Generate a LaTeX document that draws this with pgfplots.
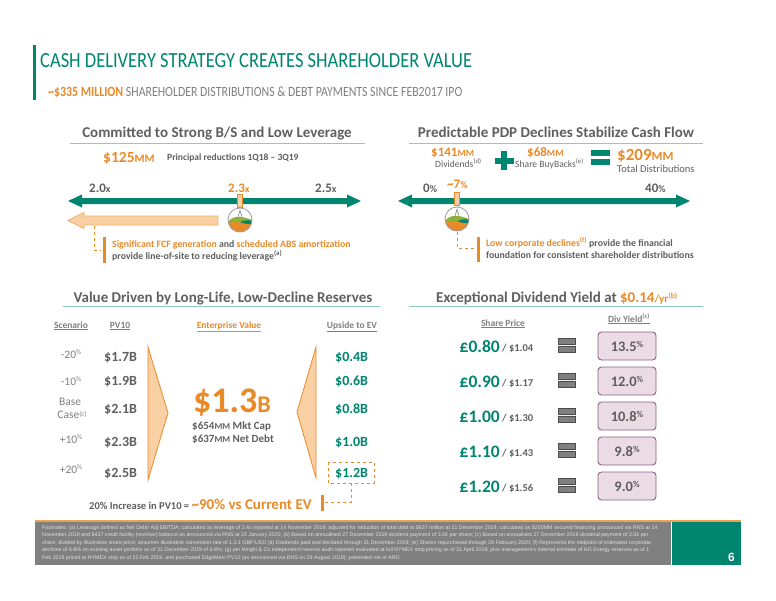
\documentclass[border=0pt]{standalone}
\usepackage{pgfplots}
\pgfplotsset{compat=1.18}
\usepackage{pgfplotstable}
\usepackage{fontspec}
\setmainfont{Carlito}
\newfontfamily\narrowfont[FakeStretch=0.84]{Carlito}
\newfontfamily\notefont{Liberation Sans}

\definecolor{brandteal}{RGB}{0,133,113}
\definecolor{brandorange}{RGB}{233,138,40}
\definecolor{txtgray}{RGB}{95,95,95}
\definecolor{subgray}{RGB}{128,128,128}
\definecolor{lightorange}{RGB}{249,208,164}
\definecolor{uline}{RGB}{140,202,196}
\definecolor{leafgreen}{RGB}{141,178,58}
\definecolor{yieldfill}{RGB}{235,219,229}
\definecolor{yieldborder}{RGB}{140,98,128}
\definecolor{footgray}{RGB}{128,128,128}

% scenario table: baseline (px from top), PV10 and upside to EV in $B
\pgfplotstableread{
y pv up
361 1.7 0.4
385 1.9 0.6
413 2.1 0.8
446 2.3 1.0
477 2.5 1.2
}\evdata

% share price (GBP, USD) and dividend yield in %
\pgfplotstableread{
y gbp usd yield
352 0.80 1.04 13.5
387 0.90 1.17 12.0
422 1.00 1.30 10.8
457 1.10 1.43 9.8
492 1.20 1.56 9.0
}\divdata

% marker positions on the two number lines
\pgfplotstableread{
x y
240 201
457 199
}\marks

\pgfdeclareplotmark{slot}{%
  \pgfpathrectangle{\pgfpoint{-2.5pt}{-6.5pt}}{\pgfpoint{5pt}{13pt}}%
  \pgfusepathqfillstroke}
\pgfdeclareplotmark{eqbars}{%
  \pgfpathrectangle{\pgfpoint{-8.5pt}{0.8pt}}{\pgfpoint{17pt}{6pt}}%
  \pgfpathrectangle{\pgfpoint{-8.5pt}{-6.8pt}}{\pgfpoint{17pt}{6pt}}%
  \pgfusepathqfillstroke}

\newcommand{\emblem}[2]{%
  \begin{scope}[shift={(axis cs:#1,#2)}]
    \fill[white] (0pt,0pt) circle[radius=12pt];
    \begin{scope}
      \clip (0pt,0pt) circle[radius=12pt];
      \fill[brandorange] (-12pt,-2pt) rectangle (12pt,-12pt);
      \fill[leafgreen] (-12pt,-2pt) .. controls (-7pt,5pt) and (2pt,4pt) .. (12pt,0pt) -- (12pt,-2pt) -- cycle;
      \fill[brandteal] (0pt,-2pt) .. controls (5pt,0pt) and (9pt,0pt) .. (12pt,-1pt) -- (12pt,-4pt) .. controls (6pt,-4pt) .. (0pt,-2pt);
    \end{scope}
    \draw[black!40, line width=0.8pt] (0pt,0pt) circle[radius=12pt];
    \draw[black!60, line width=0.4pt] (-2pt,3pt) -- (0pt,10pt) -- (2pt,3pt) (-1.5pt,6pt) -- (1.5pt,6pt);
  \end{scope}}

\begin{document}
\begin{tikzpicture}[every node/.append style={inner sep=0pt}]
\begin{axis}[
  width=776pt, height=600pt, scale only axis,
  xmin=0, xmax=776, ymin=0, ymax=600, y dir=reverse,
  hide axis, clip=false,
  /pgf/number format/assume math mode=true,
]
\fill[white] (axis cs:0,0) rectangle (axis cs:776,600);

% ---------- title block
\fill[brandteal] (33,45) rectangle (36,100);
\node[anchor=base west, text=brandteal] at (40,67)
  {\resizebox{432pt}{14pt}{\fontsize{20}{22}\selectfont CASH DELIVERY STRATEGY CREATES SHAREHOLDER VALUE}};
\node[anchor=base west, font=\narrowfont\fontsize{14.1}{17}\selectfont] at (48,96)
  {\textcolor{brandorange}{\bfseries\textasciitilde\$335 MILLION} \textcolor{subgray}{SHAREHOLDER DISTRIBUTIONS \& DEBT PAYMENTS SINCE FEB2017 IPO}};

% ---------- section headings
\node[anchor=base, text=txtgray, font=\bfseries\fontsize{15}{18}\selectfont] at (217,137) {Committed to Strong B/S and Low Leverage};
\draw[uline, line width=1pt] (70,143) -- (365,143);
\node[anchor=base, text=txtgray, font=\bfseries\fontsize{15}{18}\selectfont] at (556,137) {Predictable PDP Declines Stabilize Cash Flow};
\draw[uline, line width=1pt] (409,143) -- (703,143);
\node[anchor=base, text=txtgray, font=\bfseries\fontsize{15}{18}\selectfont] at (223,302) {Value Driven by Long-Life, Low-Decline Reserves};
\draw[uline, line width=1pt] (63,306) -- (380,306);
\node[anchor=base, text=txtgray, font=\bfseries\fontsize{15}{18}\selectfont] at (557,302)
  {Exceptional Dividend Yield at \textcolor{brandorange}{\$0.14\fontsize{11}{12}\selectfont/yr\textsuperscript{(b)}}};
\draw[uline, line width=1pt] (409,306) -- (703,306);

% ---------- leverage panel
\node[anchor=base west, text=brandorange, font=\bfseries\fontsize{15.5}{18}\selectfont] at (103,162) {\$125{\fontsize{11.5}{12}\selectfont MM}};
\node[anchor=base west, text=txtgray, font=\bfseries\fontsize{9.5}{11}\selectfont] at (167,160) {Principal reductions 1Q18 -- 3Q19};
\node[anchor=base west, text=txtgray, font=\bfseries\fontsize{13}{15}\selectfont] at (89,192) {2.0{\fontsize{10}{12}\selectfont x}};
\node[anchor=base west, text=brandorange, font=\bfseries\fontsize{13}{15}\selectfont] at (228,192) {2.3{\fontsize{10}{12}\selectfont x}};
\node[anchor=base west, text=txtgray, font=\bfseries\fontsize{13}{15}\selectfont] at (315,192) {2.5{\fontsize{10}{12}\selectfont x}};
\fill[brandteal] (68,201) -- (82,194.5) -- (82,198) -- (347,198) -- (347,194.5) -- (361,201) -- (347,207.5) -- (347,204) -- (82,204) -- (82,207.5) -- cycle;
\filldraw[fill=lightorange, draw=brandorange!70, line width=0.7pt] (68,220.5) -- (84,212.5) -- (84,216) -- (218,216) -- (218,225) -- (84,225) -- (84,228.5) -- cycle;
\emblem{240}{220}
\draw[brandorange, dashed, line width=0.8pt] (94,226) -- (94,250) -- (101,250);
\fill[brandorange] (103,237) rectangle (106,263);
\node[anchor=base west, font=\bfseries\fontsize{9.8}{12}\selectfont] at (112,247)
  {\textcolor{brandorange}{Significant FCF generation} \textcolor{txtgray}{and} \textcolor{brandorange}{scheduled ABS amortization}};
\node[anchor=base west, text=txtgray, font=\bfseries\fontsize{9.8}{12}\selectfont] at (112,259)
  {provide line-of-site to reducing leverage\textsuperscript{(a)}};

% ---------- distributions panel
\node[anchor=base west, text=brandorange, font=\bfseries\fontsize{13}{15}\selectfont] at (431,156) {\$141{\fontsize{9.5}{12}\selectfont MM}};
\node[anchor=base west, text=txtgray, font=\fontsize{9.6}{12}\selectfont] at (435,167.5) {Dividends\textsuperscript{(d)}};
\fill[brandteal] (501,151) rectangle (507,170);
\fill[brandteal] (494.5,157.5) rectangle (513.5,163.5);
\node[anchor=base west, text=brandorange, font=\bfseries\fontsize{13}{15}\selectfont] at (527,156) {\$68{\fontsize{9.5}{12}\selectfont MM}};
\node[anchor=base west, text=txtgray, font=\fontsize{9.6}{12}\selectfont] at (515,167.5) {Share BuyBacks\textsuperscript{(e)}};
\fill[brandteal] (591,150) rectangle (610,156);
\fill[brandteal] (591,159) rectangle (610,165);
\node[anchor=base west, text=brandorange, font=\bfseries\fontsize{17}{20}\selectfont] at (617,160) {\$209{\fontsize{12.5}{14}\selectfont MM}};
\node[anchor=base west, text=txtgray, font=\fontsize{10.5}{12}\selectfont] at (617,172) {Total Distributions};
\node[anchor=base west, text=txtgray, font=\bfseries\fontsize{13}{15}\selectfont] at (423,192) {0{\fontsize{10}{12}\selectfont\%}};
\node[anchor=base west, text=brandorange, font=\bfseries\fontsize{13}{15}\selectfont] at (447,188) {\textasciitilde7{\fontsize{10}{12}\selectfont\%}};
\node[anchor=base west, text=txtgray, font=\bfseries\fontsize{13}{15}\selectfont] at (645,192) {40{\fontsize{10}{12}\selectfont\%}};
\fill[brandteal] (398,201) -- (412,194.5) -- (412,198) -- (676,198) -- (676,194.5) -- (690,201) -- (676,207.5) -- (676,204) -- (412,204) -- (412,207.5) -- cycle;
\emblem{457}{219}
\draw[brandorange, dashed, line width=0.8pt] (457,232) -- (457,248) -- (474,248);
\fill[brandorange] (476.5,237) rectangle (479.5,262);
\node[anchor=base west, font=\bfseries\fontsize{9.8}{12}\selectfont] at (486,246)
  {\textcolor{brandorange}{Low corporate declines\textsuperscript{(f)}} \textcolor{txtgray}{provide the financial}};
\node[anchor=base west, text=txtgray, font=\bfseries\fontsize{9.8}{12}\selectfont] at (486,258)
  {foundation for consistent shareholder distributions};

\addplot[only marks, mark=slot, mark options={fill=lightorange, draw=brandorange, line width=0.6pt}] table[x=x, y=y] {\marks};

% ---------- reserves panel
\node[anchor=base, text=subgray, font=\bfseries\fontsize{9.5}{11}\selectfont] at (71,328) {\underline{Scenario}};
\node[anchor=base, text=subgray, font=\bfseries\fontsize{9.5}{11}\selectfont] at (120,328) {\underline{PV10}};
\node[anchor=base, text=brandorange, font=\bfseries\fontsize{9.5}{11}\selectfont] at (229,328) {\underline{Enterprise Value}};
\node[anchor=base, text=subgray, font=\bfseries\fontsize{9.5}{11}\selectfont] at (352,328) {\underline{Upside to EV}};
\begin{scope}[text=subgray, font=\fontsize{11.5}{13}\selectfont]
\node[anchor=base] at (71,358) {-20{\fontsize{7}{8}\selectfont\raisebox{4pt}{\%}}};
\node[anchor=base] at (71,385) {-10{\fontsize{7}{8}\selectfont\raisebox{4pt}{\%}}};
\node[anchor=base] at (70,405) {Base};
\node[anchor=base] at (72,418) {Case{\fontsize{7}{8}\selectfont\raisebox{2pt}{(c)}}};
\node[anchor=base] at (71,443) {+10{\fontsize{7}{8}\selectfont\raisebox{4pt}{\%}}};
\node[anchor=base] at (71,473) {+20{\fontsize{7}{8}\selectfont\raisebox{4pt}{\%}}};
\end{scope}
\filldraw[fill=lightorange, draw=brandorange, line width=0.8pt] (148,347) -- (168,413) -- (148,480) -- cycle;
\filldraw[fill=lightorange, draw=brandorange, line width=0.8pt] (316,347) -- (297,412) -- (316,478) -- cycle;

\addplot[only marks, mark=*, mark size=0pt, point meta=explicit,
  nodes near coords={\$\pgfmathprintnumber[fixed,fixed zerofill,precision=1]{\pgfplotspointmeta}B},
  nodes near coords style={anchor=base west, inner sep=0pt, text=txtgray, font=\bfseries\fontsize{14}{16}\selectfont}]
  table[x expr=104, y=y, meta=pv] {\evdata};
\addplot[only marks, mark=*, mark size=0pt, point meta=explicit,
  nodes near coords={\$\pgfmathprintnumber[fixed,fixed zerofill,precision=1]{\pgfplotspointmeta}B},
  nodes near coords style={anchor=base west, inner sep=0pt, text=brandteal, font=\bfseries\fontsize{14}{16}\selectfont}]
  table[x expr=335, y=y, meta=up] {\evdata};

\node[anchor=base, text=brandorange, font=\bfseries\fontsize{36}{40}\selectfont] at (232,412) {\$1.3{\fontsize{24}{26}\selectfont B}};
\node[anchor=base west, text=txtgray, font=\bfseries\fontsize{11}{13}\selectfont] at (192,429) {\$654{\fontsize{9}{11}\selectfont MM} Mkt Cap};
\node[anchor=base west, text=txtgray, font=\bfseries\fontsize{11}{13}\selectfont] at (192,442) {\$637{\fontsize{9}{11}\selectfont MM} Net Debt};
\draw[brandorange, dashed, line width=0.9pt] (328,462) rectangle (374,483);
\draw[brandorange, dashed, line width=0.8pt] (351,483) -- (351,502) -- (325,502);
\fill[brandorange] (320.5,495) rectangle (323.5,511);
\node[anchor=base west, font=\bfseries\fontsize{10.5}{13}\selectfont] at (89,509)
  {\textcolor{txtgray}{20\% Increase in PV10 =} \textcolor{brandorange}{\fontsize{15}{17}\selectfont\textasciitilde90\% vs Current EV}};

% ---------- dividend yield panel
\node[anchor=base, text=subgray, font=\bfseries\fontsize{9.5}{11}\selectfont] at (503,326) {\underline{Share Price}};
\node[anchor=base, text=subgray, font=\bfseries\fontsize{9.5}{11}\selectfont] at (629,322) {\underline{Div Yield\textsuperscript{(c)}}};
\addplot[only marks, mark=*, mark size=0pt, point meta=explicit,
  nodes near coords={\pounds\pgfmathprintnumber[fixed,fixed zerofill,precision=2]{\pgfplotspointmeta}},
  nodes near coords style={anchor=base east, inner sep=0pt, text=brandteal, font=\bfseries\fontsize{17.5}{20}\selectfont}]
  table[x expr=500, y=y, meta=gbp] {\divdata};
\addplot[only marks, mark=*, mark size=0pt, point meta=explicit,
  nodes near coords={/ \$\pgfmathprintnumber[fixed,fixed zerofill,precision=2]{\pgfplotspointmeta}},
  nodes near coords style={anchor=base west, inner sep=0pt, text=txtgray, font=\bfseries\fontsize{10.5}{12}\selectfont}]
  table[x expr=502, y expr=\thisrow{y}-1, meta=usd] {\divdata};
\addplot[only marks, mark=eqbars, mark options={fill=black!50, draw=black!70, line width=0.5pt}]
  table[x expr=567, y expr=\thisrow{y}-7] {\divdata};
\addplot[only marks, mark=*, mark size=0pt, point meta=explicit,
  nodes near coords={\pgfmathprintnumber[fixed,fixed zerofill,precision=1]{\pgfplotspointmeta}{\fontsize{9}{10}\selectfont\raisebox{4pt}{\%}}},
  nodes near coords style={anchor=center, text=txtgray, font=\bfseries\fontsize{14.5}{16}\selectfont,
    draw=yieldborder, fill=yieldfill, line width=0.9pt, rounded corners=3.5pt,
    minimum width=58pt, minimum height=28pt, inner sep=0pt}]
  table[x expr=627, y expr=\thisrow{y}-6, meta=yield] {\divdata};

% ---------- footer
\fill[brandorange!80] (35,520) rectangle (741,522);
\fill[footgray] (35,522) rectangle (671,565);
\fill[brandteal] (672,522) rectangle (741,565);
\node[anchor=base east, text=white, font=\notefont\bfseries\fontsize{12}{14}\selectfont] at (735,561) {6};
\node[anchor=north west, align=left, text=white!88!black, font=\notefont\fontsize{5.3}{7.5}\selectfont] at (42,525)
  {Footnotes: (a) Leverage defined as Net Debt/ Adj EBITDA; calculated as leverage of 2.4x reported at 14 November 2019, adjusted for reduction of total debt to \$637 million at 31 December 2019, calculated as \$200MM secured financing announced via RNS at 14\\
   November 2019 and \$437 credit facility (revolver) balance as announced via RNS at 23 January 2020; (b) Based on annualised 27 December 2019 dividend payment of 3.5¢ per share; (c) Based on annualised 27 December 2019 dividend payment of 3.5¢ per\\
   share, divided by illustrative share price; assumes illustrative conversion rate of 1.3:1 GBP:USD (d) Dividends paid and declared through 31 December 2019; (e) Shares repurchased through 28 February 2020; (f) Represents the midpoint of estimated corporate\\
   declines of 6-8\% on existing asset portfolio as of 31 December 2019 of 6-8\%; (g) per Wright \& Co independent reserve audit reported evaluated at full NYMEX strip pricing as of 31 April 2019, plus management's internal estimate of HG Energy reserves as of 1\\
   Feb 2019 priced at NYMEX strip as of 22 Feb 2019, and purchased EdgeMarc PV10 (as announced via RNS on 29 August 2019); presented net of ARO.};
\end{axis}
\end{tikzpicture}
\end{document}
